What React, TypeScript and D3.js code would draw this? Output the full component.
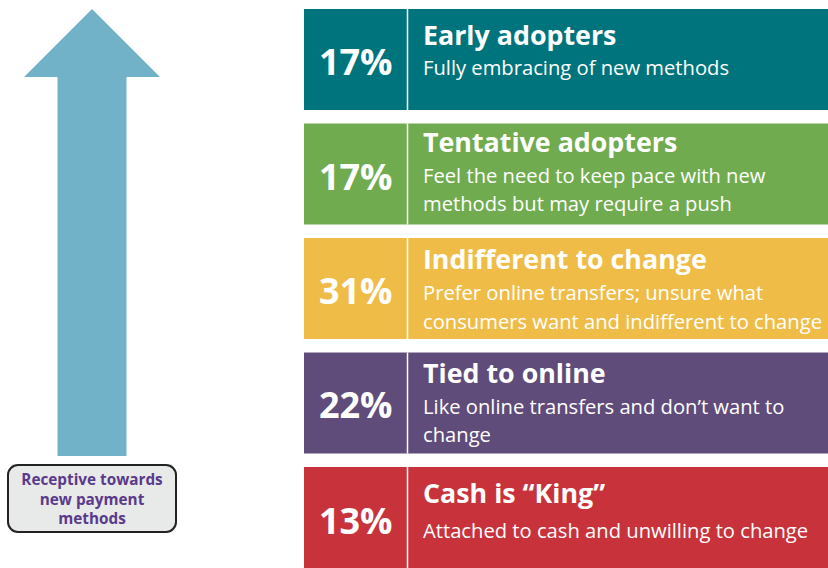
import React, { useEffect, useRef } from "react";
import * as d3 from "d3";

const SEGMENTS = ["early", "tentative", "indifferent", "tied", "cash"];
const SHARES = [17, 17, 31, 22, 13];
const TITLES = [
  "Early adopters",
  "Tentative adopters",
  "Indifferent to change",
  "Tied to online",
  "Cash is \u201cKing\u201d",
];
const DESCRIPTIONS = [
  ["Fully embracing of new methods"],
  ["Feel the need to keep pace with new", "methods but may require a push"],
  ["Prefer online transfers; unsure what", "consumers want and indifferent to change"],
  ["Like online transfers and don\u2019t want to", "change"],
  ["Attached to cash and unwilling to change"],
];
const COLORS = ["#00747c", "#71ab50", "#efbd47", "#604c7a", "#c8323b"];
const ARROW_LABEL = ["Receptive towards", "new payment", "methods"];

const W = 828, H = 568;
const FONT = "'Open Sans', 'Noto Sans', sans-serif";

export default function App() {
  const ref = useRef<SVGSVGElement>(null);

  useEffect(() => {
    document.body.style.margin = "0";
    document.body.style.overflow = "hidden";
    const svg = d3.select(ref.current);
    svg.selectAll("*").remove();

    const y = d3.scaleBand<string>().domain(SEGMENTS).range([9, H]).paddingInner(0.118);
    const x0 = 304, xDiv = 407.5, x1 = W;
    const pctX = (x0 + xDiv) / 2;
    const textX = 423;

    // --- Arrow ---
    const ax = 92, headW = 68, shaftW = 34.5, tipY = 9, headBase = 77, shaftBottom = 456;
    const arrow = d3.path();
    arrow.moveTo(ax, tipY);
    arrow.lineTo(ax + headW, headBase);
    arrow.lineTo(ax + shaftW, headBase);
    arrow.lineTo(ax + shaftW, shaftBottom);
    arrow.lineTo(ax - shaftW, shaftBottom);
    arrow.lineTo(ax - shaftW, headBase);
    arrow.lineTo(ax - headW, headBase);
    arrow.closePath();
    svg.append("path").attr("d", arrow.toString()).attr("fill", "#72b2c8");

    // --- Label box ---
    svg.append("rect")
      .attr("x", 8).attr("y", 465).attr("width", 168).attr("height", 67)
      .attr("rx", 10).attr("fill", "#e8e9e9")
      .attr("stroke", "#222").attr("stroke-width", 2);
    svg.append("g").selectAll("text").data(ARROW_LABEL).enter().append("text")
      .attr("x", ax).attr("y", (_, i) => 485 + i * 19.5)
      .attr("text-anchor", "middle")
      .attr("font-family", FONT).attr("font-weight", 700).attr("font-size", 15.3)
      .attr("fill", "#5a3a8a")
      .text(d => d);

    // --- Rows ---
    const rows = svg.append("g").selectAll("g").data(SEGMENTS).enter().append("g")
      .attr("transform", d => `translate(0,${y(d)})`);
    const bw = y.bandwidth();

    rows.append("rect")
      .attr("x", x0).attr("width", x1 - x0).attr("height", bw)
      .attr("fill", (_, i) => COLORS[i]);
    rows.append("line")
      .attr("x1", xDiv).attr("x2", xDiv).attr("y1", 0).attr("y2", bw)
      .attr("stroke", "#fff").attr("stroke-width", 1.5);

    const pctBase = [66, 66, 66, 65, 67];
    rows.append("text")
      .attr("x", pctX).attr("y", (_, i) => pctBase[i])
      .attr("text-anchor", "middle")
      .attr("font-family", FONT).attr("font-weight", 700).attr("font-size", 36)
      .attr("fill", "#fff")
      .text((_, i) => `${SHARES[i]}%`);

    const titleBase = [36, 28, 31, 30, 36];
    rows.append("text")
      .attr("x", textX).attr("y", (_, i) => titleBase[i])
      .attr("font-family", FONT).attr("font-weight", 700).attr("font-size", 26.8)
      .attr("fill", "#fff")
      .text((_, i) => TITLES[i]);

    const descBase = [66, 59, 62, 61, 71];
    rows.each(function (_, i) {
      d3.select(this).selectAll("text.desc").data(DESCRIPTIONS[i]).enter().append("text")
        .attr("class", "desc")
        .attr("x", textX).attr("y", (_, j) => descBase[i] + j * 28.5)
        .attr("font-family", FONT).attr("font-size", 20.2)
        .attr("fill", "#fff")
        .text(d => d);
    });
  }, []);

  return <svg ref={ref} width={W} height={H} style={{ position: "absolute", left: 0, top: 0, background: "#fff" }} />;
}
